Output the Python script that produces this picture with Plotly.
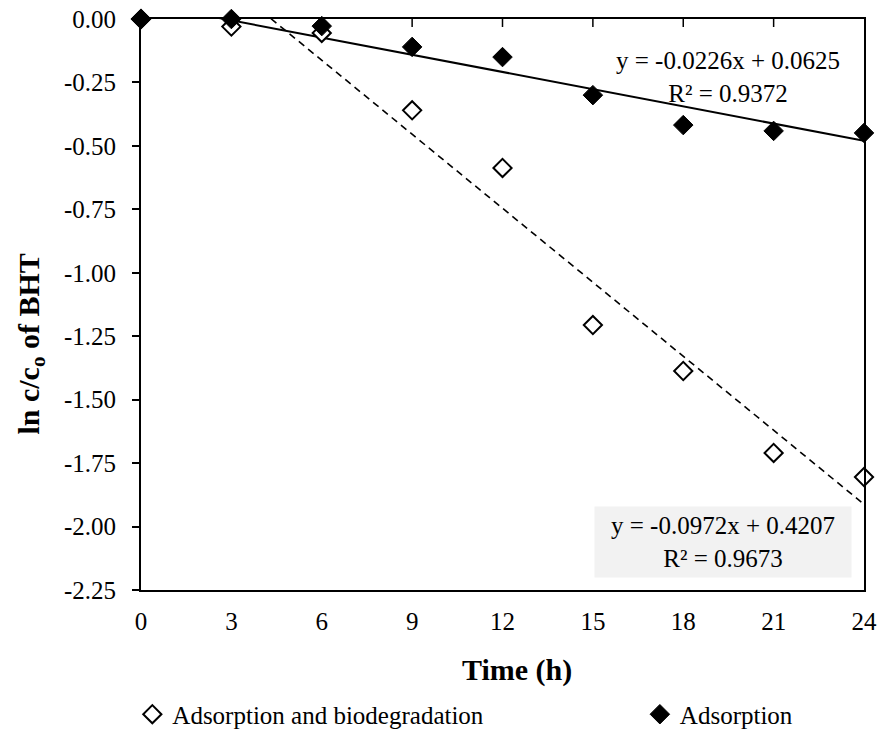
import numpy as np
import plotly.graph_objects as go

# Sampling times (h)
time_h = [0, 3, 6, 9, 12, 15, 18, 21, 24]

# ln(c/c0) of BHT for each treatment
ads_biodeg = [0.0, -0.03, -0.055, -0.36, -0.587, -1.206, -1.387, -1.71, -1.805]
adsorption = [0.0, 0.0, -0.028, -0.11, -0.15, -0.30, -0.418, -0.441, -0.449]

# Linear trendline coefficients (slope, intercept, R²)
fit_biodeg = (-0.0972, 0.4207, 0.9673)
fit_ads = (-0.0226, 0.0625, 0.9372)

x_ticks = [0, 3, 6, 9, 12, 15, 18, 21, 24]
y_ticks = [0.0, -0.25, -0.5, -0.75, -1.0, -1.25, -1.5, -1.75, -2.0, -2.25]
y_tick_text = ["0.00", "-0.25", "-0.50", "-0.75", "-1.00", "-1.25",
               "-1.50", "-1.75", "-2.00", "-2.25"]

FONT = "Liberation Serif"
TXT = 25
PLOT_H = 733 - 19 - 143  # height of the plotting area in px
TICK_LEN = 8

xt = np.array([time_h[0], time_h[-1]], dtype=float)

fig = go.Figure()

# Trendlines (clipped to the plotting area)
fig.add_trace(go.Scatter(
    x=xt, y=fit_biodeg[0] * xt + fit_biodeg[1], mode="lines",
    line=dict(color="black", width=1.6, dash="7px,5px"),
    showlegend=False, hoverinfo="skip"))
fig.add_trace(go.Scatter(
    x=xt, y=fit_ads[0] * xt + fit_ads[1], mode="lines",
    line=dict(color="black", width=2),
    showlegend=False, hoverinfo="skip"))

# Measured points, each with its own legend box
fig.add_trace(go.Scatter(
    x=time_h, y=ads_biodeg, mode="markers",
    name="Adsorption and biodegradation", legend="legend",
    marker=dict(symbol="diamond", size=14, color="white",
                line=dict(color="black", width=2)),
    cliponaxis=False))
fig.add_trace(go.Scatter(
    x=time_h, y=adsorption, mode="markers", name="Adsorption",
    legend="legend2",
    marker=dict(symbol="diamond", size=15, color="black",
                line=dict(color="black", width=1)),
    cliponaxis=False))


def eq_text(fit):
    return f"y = {fit[0]:.4f}x + {fit[1]:.4f}<br>R² = {fit[2]:.4f}"


annotations = [
    dict(text=eq_text(fit_ads), x=0.812, y=0.899, xref="paper", yref="paper",
         showarrow=False, font=dict(family=FONT, size=TXT, color="black"),
         align="center", xanchor="center", yanchor="middle"),
    dict(text=eq_text(fit_biodeg), x=0.805, y=0.084, xref="paper",
         yref="paper", showarrow=False,
         font=dict(family=FONT, size=TXT, color="black"),
         align="center", xanchor="center", yanchor="middle",
         bgcolor="#f2f2f2", borderpad=5, width=246, height=60),
    dict(text="<b>Time (h)</b>", x=0.52, y=-0.14, xref="paper", yref="paper",
         showarrow=False, font=dict(family=FONT, size=30, color="black"),
         xanchor="center", yanchor="middle"),
    dict(text="<b>ln c/c<sub>o</sub> of BHT</b>", x=-0.152, y=0.43,
         xref="paper", yref="paper", textangle=-90, showarrow=False,
         font=dict(family=FONT, size=30, color="black"),
         xanchor="center", yanchor="middle"),
]

# Tick marks hanging down from the top (y = 0) axis line
top_ticks = [
    dict(type="line", xref="x", yref="paper", x0=t, x1=t,
         y0=1, y1=1 - TICK_LEN / PLOT_H,
         line=dict(color="black", width=1.5), layer="above")
    for t in x_ticks[1:-1]
]

legend_style = dict(orientation="h", xanchor="left", yanchor="middle",
                    font=dict(family=FONT, size=TXT, color="black"),
                    bgcolor="rgba(0,0,0,0)", itemwidth=30)

fig.update_layout(
    width=882, height=733,
    margin=dict(l=141, r=18, t=19, b=143, autoexpand=False),
    paper_bgcolor="white", plot_bgcolor="white",
    font=dict(family=FONT, size=TXT, color="black"),
    showlegend=True,
    legend=dict(x=-0.012, y=-0.218, **legend_style),
    legend2=dict(x=0.69, y=-0.218, **legend_style),
    annotations=annotations,
    shapes=top_ticks,
    xaxis=dict(range=[0, 24], tickvals=x_ticks, ticks="", showgrid=False,
               zeroline=False, showline=True, mirror=True, linecolor="black",
               linewidth=2, ticklabelstandoff=8,
               tickfont=dict(family=FONT, size=TXT, color="black")),
    yaxis=dict(range=[-2.25, 0], tickvals=y_ticks, ticktext=y_tick_text,
               ticks="outside", ticklen=7, tickwidth=1.5, tickcolor="black",
               showgrid=False, zeroline=False, showline=True, mirror=True,
               linecolor="black", linewidth=2, ticklabelstandoff=11,
               tickfont=dict(family=FONT, size=TXT, color="black")),
)

fig.write_html("out.html")
